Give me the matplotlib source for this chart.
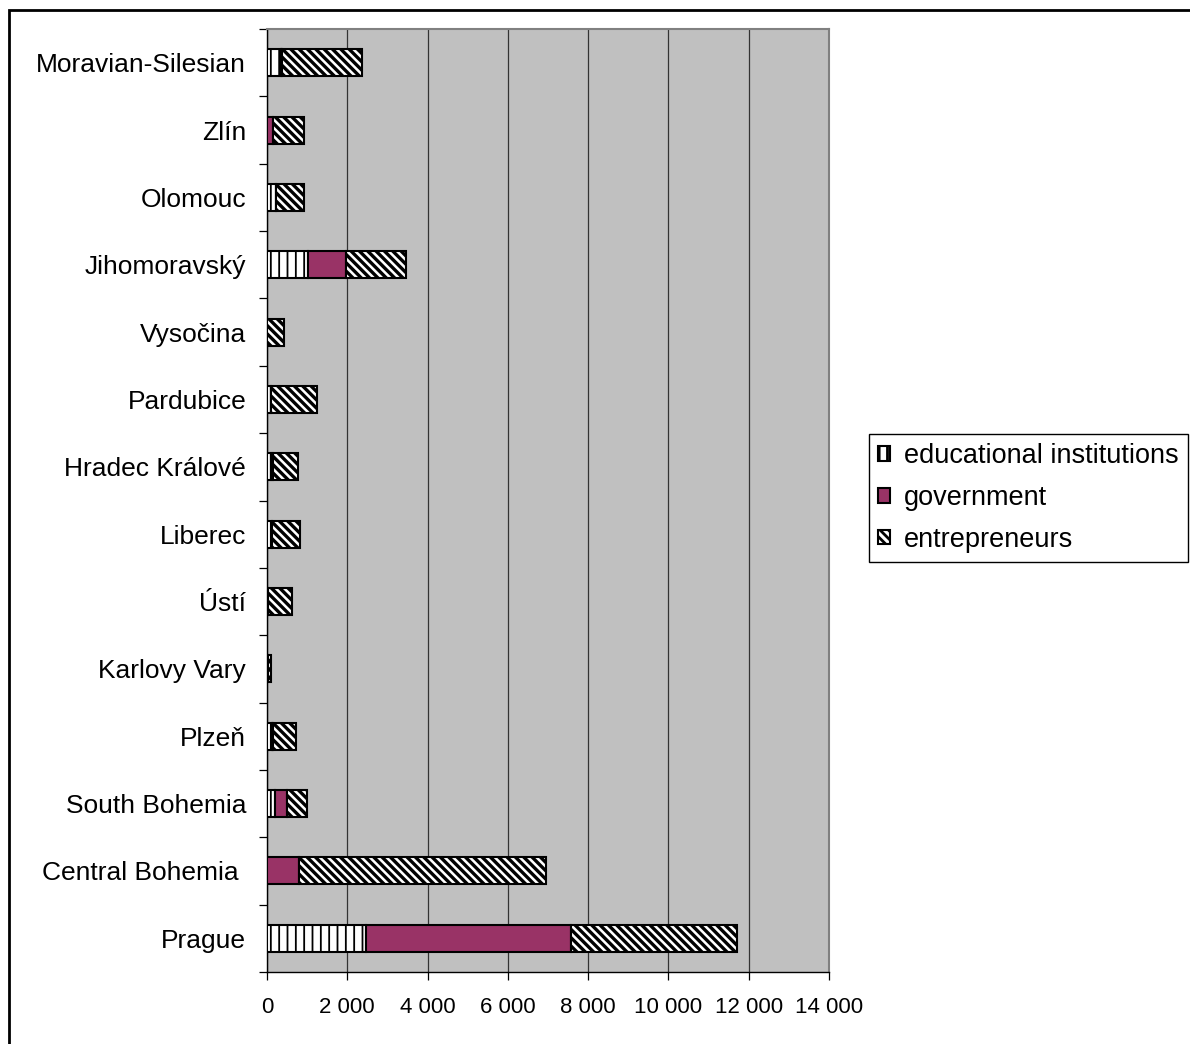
import matplotlib.pyplot as plt
import numpy as np
from matplotlib.patches import Rectangle
from matplotlib.ticker import FuncFormatter, FixedLocator

plt.rcParams['font.family'] = ['Liberation Sans', 'DejaVu Sans']
plt.rcParams['hatch.linewidth'] = 2.0

# regions, listed bottom to top
regions = ['Prague', 'Central Bohemia ', 'South Bohemia', 'Plzeň', 'Karlovy Vary',
           'Ústí', 'Liberec', 'Hradec Králové', 'Pardubice', 'Vysočina',
           'Jihomoravský', 'Olomouc', 'Zlín', 'Moravian-Silesian']
educational = [2470, 0, 190, 120, 30, 20, 130, 100, 90, 5, 1030, 230, 10, 350]
government = [5100, 800, 320, 40, 0, 0, 0, 40, 0, 0, 950, 0, 130, 30]
entrepreneurs = [4150, 6150, 490, 550, 60, 600, 680, 620, 1150, 430, 1480, 680, 770, 1980]

# name, values, fill, hatch, hatch line width
series = [
    ('educational institutions', educational, 'white', '||', 1.3),
    ('government', government, '#993366', None, 1.0),
    ('entrepreneurs', entrepreneurs, 'white', '\\\\\\\\', 2.4),
]

fig = plt.figure(figsize=(11.9, 10.44), dpi=100)
ax = fig.add_axes([267 / 1190, 72 / 1044, 562 / 1190, 943 / 1044])
ax.set_facecolor('#C0C0C0')

y = np.arange(len(regions))
left = np.zeros(len(regions))
for name, vals, color, hatch, hlw in series:
    vals = np.array(vals, dtype=float)
    with plt.rc_context({'hatch.linewidth': hlw}):
        ax.barh(y, vals, left=left, height=0.4, color=color, edgecolor='black',
                linewidth=1.5, hatch=hatch, label=name, zorder=3)
    left += vals

ax.set_xlim(0, 14000)
ax.set_ylim(-0.5, len(regions) - 0.5)

ax.xaxis.set_major_locator(FixedLocator(np.arange(0, 14001, 2000)))
ax.xaxis.set_major_formatter(FuncFormatter(lambda v, p: f'{int(v):,}'.replace(',', ' ')))
ax.grid(axis='x', color='#333333', linewidth=0.9, zorder=1)
ax.tick_params(axis='x', length=6, width=0.9, labelsize=16, pad=12)

# ticks between categories, labels centred on the bars
ax.yaxis.set_major_locator(FixedLocator(np.arange(-0.5, len(regions), 1.0)))
ax.yaxis.set_major_formatter(FuncFormatter(lambda v, p: ''))
ax.yaxis.set_minor_locator(FixedLocator(y))
ax.set_yticklabels(regions, minor=True)
ax.tick_params(axis='y', which='major', length=6, width=0.9)
ax.tick_params(axis='y', which='minor', length=0, labelsize=19, pad=15)

for side in ['top', 'right']:
    ax.spines[side].set_color('#808080')
    ax.spines[side].set_linewidth(1.5)
for side in ['left', 'bottom']:
    ax.spines[side].set_color('black')
    ax.spines[side].set_linewidth(1.0)

leg = ax.legend(loc='center left', bbox_to_anchor=(869 / 1190, 1 - 498 / 1044),
                bbox_transform=fig.transFigure, borderaxespad=0, fontsize=19.5,
                handlelength=0.45, handleheight=0.45, handletextpad=0.52,
                labelspacing=0.58, borderpad=0.33, fancybox=False, framealpha=1)
leg.get_frame().set_edgecolor('black')
leg.get_frame().set_linewidth(1.0)

# outer frame around the chart
fig.add_artist(Rectangle((9 / 1190, -0.05), 1.2, 1 - 10 / 1044 + 0.05, fill=False,
                         edgecolor='black', linewidth=2.0, transform=fig.transFigure))

fig.savefig('out.png', dpi=100)
